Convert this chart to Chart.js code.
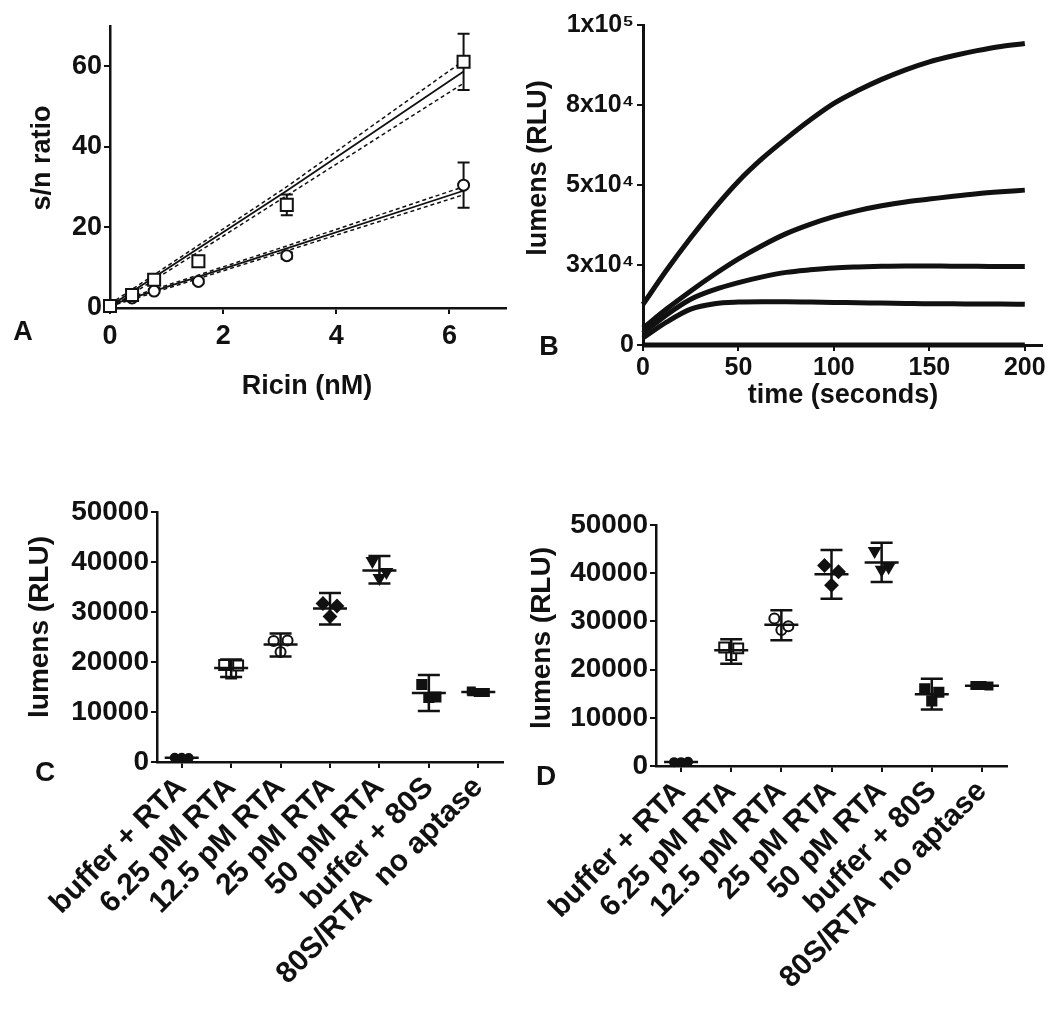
<!DOCTYPE html>
<html>
<head>
<meta charset="utf-8">
<script src="https://cdn.jsdelivr.net/npm/chart.js@4.4.0/dist/chart.umd.min.js"></script>
<style>
    body { margin: 0; background: #fff; }
    #painel { position: relative; width: 1050px; height: 1011px; overflow: hidden; }
    canvas { position: absolute; }
</style>
</head>
<body>
<div id="painel">
    <canvas id="graficoA" width="520" height="420" style="left:0;top:0"></canvas>
    <canvas id="graficoB" width="530" height="420" style="left:520px;top:0"></canvas>
    <canvas id="graficoC" width="520" height="531" style="left:0;top:480px"></canvas>
    <canvas id="graficoD" width="530" height="531" style="left:520px;top:480px"></canvas>
</div>
<script>
// Painel A - razão s/n vs ricina
const aDoses = [0, 0.39, 0.78, 1.5625, 3.125, 6.25];
const aQuadrado = [0.5, 3.2, 7.0, 11.6, 25.6, 61.1];
const aQuadradoSd = [0.3, 0.6, 0.8, 1.0, 2.6, 7.0];
const aCirculo = [0.5, 2.5, 4.2, 6.6, 13.0, 30.5];
const aCirculoSd = [0.3, 0.4, 0.5, 0.5, 0.8, 5.6];
const aAjusteX = [0, 3.125, 6.25];
const aQuadradoAjuste = [0.5, 29.1, 58.7];
const aQuadradoSup = [1.0, 30.1, 61.4];
const aQuadradoInf = [0.0, 27.9, 55.8];
const aCirculoAjuste = [0.7, 14.8, 29.1];
const aCirculoSup = [1.0, 15.4, 30.1];
const aCirculoInf = [0.4, 14.2, 28.1];
const aXTicks = [0, 2, 4, 6];
const aYTicks = [0, 20, 40, 60];

// Painel B - cinética
const bTempo = [0, 12.5, 25, 37.5, 50, 62.5, 75, 87.5, 100, 112.5, 125, 137.5, 150, 162.5, 175, 187.5, 200];
const bCurva1 = [12700, 23500, 33500, 42800, 51200, 58300, 64500, 70300, 75500, 79500, 83000, 86000, 88500, 90400, 92000, 93300, 94200];
const bCurva2 = [5300, 11300, 16900, 22100, 26900, 31100, 34800, 37700, 40100, 42000, 43500, 44700, 45600, 46500, 47300, 47900, 48400];
const bCurva3 = [3700, 9500, 14300, 17300, 19500, 21300, 22700, 23500, 24100, 24400, 24600, 24700, 24700, 24600, 24600, 24500, 24500];
const bCurva4 = [2200, 7200, 11200, 12900, 13400, 13500, 13500, 13400, 13300, 13200, 13100, 13000, 12900, 12900, 12800, 12800, 12700];
const bCurva5 = [0, 0, 0, 0, 0, 0, 0, 0, 0, 0, 0, 0, 0, 0, 0, 0, 0];
const bXTicks = [0, 50, 100, 150, 200];
const bYTicks = [0, 25000, 50000, 75000, 100000];
const bYRotulos = ['0', '3x10\u2074', '5x10\u2074', '8x10\u2074', '1x10\u2075'];

// Painéis C e D - réplicas, média e barras de erro
const cdCategorias = ['buffer + RTA', '6.25 pM RTA', '12.5 pM RTA', '25 pM RTA', '50 pM RTA', 'buffer + 80S', '80S/RTA  no aptase'];
const cdYTicks = [0, 10000, 20000, 30000, 40000, 50000];
const cReplica1 = [850, 19400, 24200, 31700, 40200, 15500, 14200];
const cReplica2 = [800, 19300, 24300, 31200, 38000, 13000, 13900];
const cReplica3 = [850, 17700, 22000, 29100, 36800, 12900, 13900];
const cMedia = [830, 18800, 23500, 30700, 38300, 13800, 14000];
const cErroSup = [1000, 20500, 25700, 33800, 41200, 17400, 14500];
const cErroInf = [650, 17000, 21100, 27500, 35700, 10200, 13400];
const dReplica1 = [800, 24600, 30600, 41600, 44600, 16000, 16700];
const dReplica2 = [900, 24400, 29000, 40300, 41300, 15300, 16600];
const dReplica3 = [800, 23000, 28200, 37500, 40700, 13500, 16700];
const dMedia = [830, 24000, 29300, 39800, 42200, 14900, 16660];
const dErroSup = [1000, 26300, 32300, 44800, 46300, 18100, 17000];
const dErroInf = [650, 21200, 26100, 34700, 38200, 11700, 16300];

// Estilos
const COR = '#111';
const FAMILIA = "'Liberation Sans', Arial, Helvetica, sans-serif";
const fonte = size => ({ family: FAMILIA, size, weight: 'bold' });
const cdMarcadores = [
    { estilo: 'circle', cheio: true, raio: 4 },
    { estilo: 'rect', cheio: false, raio: 7 },
    { estilo: 'circle', cheio: false, raio: 5 },
    { estilo: 'rectRot', cheio: true, raio: 6 },
    { estilo: 'triangle', cheio: true, raio: 6, rot: 180 },
    { estilo: 'rect', cheio: true, raio: 6.5 },
    { estilo: 'rect', cheio: true, raio: 5 }
];
const deslocamentoReplica = [-7, 7, 0];

Chart.defaults.animation = false;
Chart.defaults.plugins.legend.display = false;
Chart.defaults.plugins.tooltip.enabled = false;
Chart.defaults.color = COR;

// Função para fixar a largura/altura dos eixos
function zerarPadding(s) {
    s.paddingLeft = 0; s.paddingRight = 0; s.paddingTop = 0; s.paddingBottom = 0;
}
function larguraFixa(w) { return s => { s.width = w; zerarPadding(s); }; }
function alturaFixa(h) { return s => { s.height = h; zerarPadding(s); }; }
function ticksFixos(valores) { return s => { s.ticks = valores.map(v => ({ value: v })); }; }

function eixo(extra) {
    return Object.assign({
        border: { color: COR, width: 2.5 },
        grid: { drawOnChartArea: false, color: COR, lineWidth: 2, tickLength: 6, offset: false },
    }, extra);
}

// Plugin para textos (títulos dos eixos e letras dos painéis)
const textosPlugin = {
    id: 'textos',
    afterDraw(chart, args, opts) {
        const ctx = chart.ctx;
        (opts.itens || []).forEach(t => {
            ctx.save();
            ctx.font = `bold ${t.tam}px ${FAMILIA}`;
            ctx.fillStyle = COR;
            ctx.textAlign = 'center';
            ctx.textBaseline = 'middle';
            ctx.translate(t.x, t.y);
            if (t.vertical) ctx.rotate(-Math.PI / 2);
            ctx.fillText(t.texto, 0, 0);
            ctx.restore();
        });
    }
};

// Plugin para barras de erro e linha da média
function desenharBarras(chart, opts) {
    const { ctx, scales: { x, y } } = chart;
    ctx.save();
    ctx.strokeStyle = COR;
    ctx.lineWidth = opts.espessura || 2.5;
    (opts.itens || []).forEach(b => {
        const px = x.getPixelForValue(b.x);
        const topo = y.getPixelForValue(b.sup);
        const base = y.getPixelForValue(b.inf);
        ctx.beginPath();
        ctx.moveTo(px, topo); ctx.lineTo(px, base);
        ctx.moveTo(px - opts.tampa, topo); ctx.lineTo(px + opts.tampa, topo);
        ctx.moveTo(px - opts.tampa, base); ctx.lineTo(px + opts.tampa, base);
        if (b.media != null) {
            const pm = y.getPixelForValue(b.media);
            ctx.moveTo(px - opts.meia, pm); ctx.lineTo(px + opts.meia, pm);
        }
        ctx.stroke();
    });
    ctx.restore();
}
const barrasPlugin = {
    id: 'barras',
    beforeDatasetsDraw(chart, args, opts) { if (opts.itens && opts.fundo) desenharBarras(chart, opts); },
    afterDatasetsDraw(chart, args, opts) { if (opts.itens && !opts.fundo) desenharBarras(chart, opts); }
};

// Plugin para espalhar as réplicas lado a lado
const espalharPlugin = {
    id: 'espalhar',
    afterDatasetsUpdate(chart, args, opts) {
        if (!opts.px) return;
        chart.data.datasets.forEach((ds, i) => {
            chart.getDatasetMeta(i).data.forEach(el => { el.x += opts.px[i] || 0; });
        });
    }
};

Chart.register(textosPlugin, barrasPlugin, espalharPlugin);

const pares = (xs, ys) => xs.map((x, i) => ({ x, y: ys[i] }));

// ---------- Gráfico A ----------
function linhaAjuste(ys, tracejada) {
    return {
        type: 'line', data: pares(aAjusteX, ys), borderColor: COR,
        borderWidth: tracejada ? 1.5 : 1.8, borderDash: tracejada ? [4, 3] : [],
        pointRadius: 0, order: 1, clip: false
    };
}
new Chart(document.getElementById('graficoA'), {
    type: 'scatter',
    data: {
        datasets: [
            { data: pares(aDoses, aQuadrado), pointStyle: 'rect', pointRadius: 8.5, borderColor: COR, backgroundColor: '#fff', borderWidth: 2, order: 0, clip: false },
            { data: pares(aDoses, aCirculo), pointStyle: 'circle', pointRadius: 5.5, borderColor: COR, backgroundColor: '#fff', borderWidth: 2, order: 0, clip: false },
            linhaAjuste(aQuadradoAjuste, false),
            linhaAjuste(aQuadradoSup, true),
            linhaAjuste(aQuadradoInf, true),
            linhaAjuste(aCirculoAjuste, false),
            linhaAjuste(aCirculoSup, true),
            linhaAjuste(aCirculoInf, true)
        ]
    },
    options: {
        responsive: false,
        layout: { padding: { left: 0, top: 26, right: 14, bottom: 0 } },
        scales: {
            x: eixo({ type: 'linear', min: 0, max: 7, afterBuildTicks: ticksFixos(aXTicks), afterFit: alturaFixa(112),
                ticks: { font: fonte(27), padding: 6, maxRotation: 0 } }),
            y: eixo({ min: 0, max: 70, afterBuildTicks: ticksFixos(aYTicks), afterFit: larguraFixa(110),
                ticks: { font: fonte(27), padding: 2 } })
        },
        plugins: {
            barras: {
                fundo: true, tampa: 6, espessura: 2,
                itens: aDoses.map((x, i) => ({ x, sup: aQuadrado[i] + aQuadradoSd[i], inf: aQuadrado[i] - aQuadradoSd[i] }))
                    .concat(aDoses.map((x, i) => ({ x, sup: aCirculo[i] + aCirculoSd[i], inf: aCirculo[i] - aCirculoSd[i] })))
            },
            textos: { itens: [
                { texto: 's/n ratio', x: 43, y: 158, tam: 27, vertical: true },
                { texto: 'Ricin (nM)', x: 307, y: 387, tam: 27 },
                { texto: 'A', x: 23, y: 333, tam: 27 }
            ] }
        }
    }
});

// ---------- Gráfico B ----------
const bCurvas = [bCurva1, bCurva2, bCurva3, bCurva4, bCurva5];
new Chart(document.getElementById('graficoB'), {
    type: 'line',
    data: {
        datasets: bCurvas.map(c => ({
            data: pares(bTempo, c), borderColor: COR, borderWidth: 5, pointRadius: 0,
            cubicInterpolationMode: 'monotone', clip: false
        }))
    },
    options: {
        responsive: false,
        layout: { padding: { left: 0, top: 25, right: 8, bottom: 0 } },
        scales: {
            x: eixo({ type: 'linear', min: 0, max: 209, afterBuildTicks: ticksFixos(bXTicks), afterFit: alturaFixa(75),
                border: { color: COR, width: 3 },
                ticks: { font: fonte(25), padding: 2, maxRotation: 0 } }),
            y: eixo({ min: 0, max: 100000, afterBuildTicks: ticksFixos(bYTicks), afterFit: larguraFixa(123),
                border: { color: COR, width: 3 },
                ticks: { font: fonte(25), padding: 3, callback: (v, i) => bYRotulos[i] } })
        },
        plugins: {
            textos: { itens: [
                { texto: 'lumens (RLU)', x: 19, y: 168, tam: 27, vertical: true },
                { texto: 'time (seconds)', x: 323, y: 396, tam: 27 },
                { texto: 'B', x: 29, y: 348, tam: 27 }
            ] }
        }
    }
});

// ---------- Gráficos C e D ----------
function graficoReplicas(id, replicas, media, sup, inf, area, textos) {
    return new Chart(document.getElementById(id), {
        type: 'line',
        data: {
            labels: cdCategorias,
            datasets: replicas.map(r => ({
                data: r, showLine: false, clip: false,
                pointStyle: ctx => cdMarcadores[ctx.dataIndex].estilo,
                pointRadius: ctx => cdMarcadores[ctx.dataIndex].raio,
                pointRotation: ctx => cdMarcadores[ctx.dataIndex].rot || 0,
                pointBackgroundColor: ctx => cdMarcadores[ctx.dataIndex].cheio ? COR : '#fff',
                pointBorderColor: COR, pointBorderWidth: 2
            }))
        },
        options: {
            responsive: false,
            layout: { padding: { left: 0, top: area.topo, right: area.direita, bottom: 0 } },
            scales: {
                x: eixo({ type: 'category', offset: true, afterFit: alturaFixa(area.alturaX),
                    ticks: { font: fonte(30), padding: 2, autoSkip: false, minRotation: 45, maxRotation: 45 } }),
                y: eixo({ min: 0, max: 50000, afterBuildTicks: ticksFixos(cdYTicks), afterFit: larguraFixa(area.esquerda),
                    ticks: { font: fonte(28), padding: 2, callback: v => String(v) } })
            },
            plugins: {
                espalhar: { px: deslocamentoReplica },
                barras: {
                    fundo: false, tampa: 11, meia: 17, espessura: 2.5,
                    itens: media.map((m, i) => ({ x: i, media: m, sup: sup[i], inf: inf[i] }))
                },
                textos: { itens: textos }
            }
        }
    });
}

graficoReplicas('graficoC', [cReplica1, cReplica2, cReplica3], cMedia, cErroSup, cErroInf,
    { esquerda: 157, topo: 32, direita: 17, alturaX: 249 },
    [
        { texto: 'lumens (RLU)', x: 40, y: 147, tam: 28, vertical: true },
        { texto: 'C', x: 45, y: 293, tam: 28 }
    ]);

graficoReplicas('graficoD', [dReplica1, dReplica2, dReplica3], dMedia, dErroSup, dErroInf,
    { esquerda: 136, topo: 45, direita: 43, alturaX: 245 },
    [
        { texto: 'lumens (RLU)', x: 22, y: 158, tam: 28, vertical: true },
        { texto: 'D', x: 26, y: 297, tam: 28 }
    ]);
</script>
</body>
</html>
